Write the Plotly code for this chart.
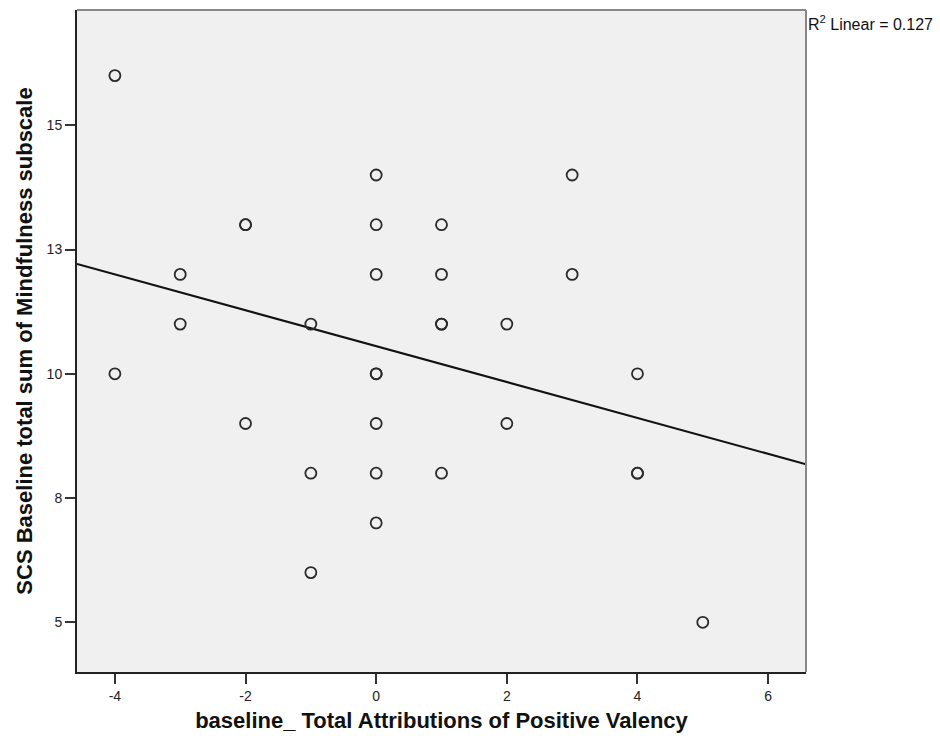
import numpy as np
import plotly.graph_objects as go

# Data (duplicated points appear as bolder circles)
x_vals = [-4, -4, -3, -3, -2, -2, -2, -1, -1, -1,
          0, 0, 0, 0, 0, 0, 0, 0,
          1, 1, 1, 1, 1, 2, 2, 3, 3, 4, 4, 4, 5]
y_vals = [16, 10, 12, 11, 13, 13, 9, 11, 8, 6,
          14, 13, 12, 10, 10, 9, 8, 7,
          13, 12, 11, 11, 8, 11, 9, 14, 12, 10, 8, 8, 5]

x_ticks = [-4, -2, 0, 2, 4, 6]
x_tick_labels = ["-4", "-2", "0", "2", "4", "6"]
y_ticks = [5, 7.5, 10, 12.5, 15]
y_tick_labels = ["5", "8", "10", "13", "15"]

x_title = "baseline_ Total Attributions of Positive Valency"
y_title = "SCS Baseline total sum of Mindfulness subscale"
r2_label = "R<sup>2</sup> Linear = 0.127"

x_range = [-4.58, 6.58]
y_range = [4.0, 17.32]

slope, intercept = np.polyfit(x_vals, y_vals, 1)
line_x = np.array(x_range)
line_y = intercept + slope * line_x

font_family = "Liberation Sans, Arial, sans-serif"

fig = go.Figure()
fig.add_trace(go.Scatter(
    x=line_x, y=line_y, mode="lines",
    line=dict(color="#111111", width=2),
    hoverinfo="skip", showlegend=False,
))
fig.add_trace(go.Scatter(
    x=x_vals, y=y_vals, mode="markers",
    marker=dict(symbol="circle-open", size=11, color="#2a2a2a",
                line=dict(width=1.8, color="#2a2a2a")),
    showlegend=False,
))

fig.update_layout(
    width=940, height=747,
    margin=dict(l=77, r=134, t=10, b=75),
    paper_bgcolor="white",
    plot_bgcolor="#f0f0f0",
    font=dict(family=font_family, size=14, color="#222222"),
    xaxis=dict(
        range=x_range, tickvals=x_ticks, ticktext=x_tick_labels,
        showgrid=False, zeroline=False,
        showline=True, linecolor="#222222", linewidth=2,
        ticks="outside", ticklen=10, tickwidth=1.5, tickcolor="#333333",
        tickfont=dict(size=14, color="#222222"),
        title=dict(text="<b>" + x_title + "</b>", font=dict(size=22, color="#111111"), standoff=10),
    ),
    yaxis=dict(
        range=y_range, tickvals=y_ticks, ticktext=y_tick_labels,
        showgrid=False, zeroline=False,
        showline=True, linecolor="#222222", linewidth=2,
        ticks="outside", ticklen=10, tickwidth=1.5, tickcolor="#333333",
        tickfont=dict(size=14, color="#222222"),
        title=dict(text="<b>" + y_title + "</b>", font=dict(size=22, color="#111111"), standoff=8),
    ),
    shapes=[
        dict(type="line", xref="paper", yref="paper", x0=0, x1=1, y0=1, y1=1,
             line=dict(color="#888888", width=2)),
        dict(type="line", xref="paper", yref="paper", x0=1, x1=1, y0=0, y1=1,
             line=dict(color="#888888", width=2)),
    ],
    annotations=[
        dict(text=r2_label, xref="paper", yref="paper", x=1, y=1,
             xanchor="left", yanchor="top", showarrow=False, yshift=-1,
             font=dict(size=16, color="#111111")),
    ],
)

fig.write_html("out.html")
